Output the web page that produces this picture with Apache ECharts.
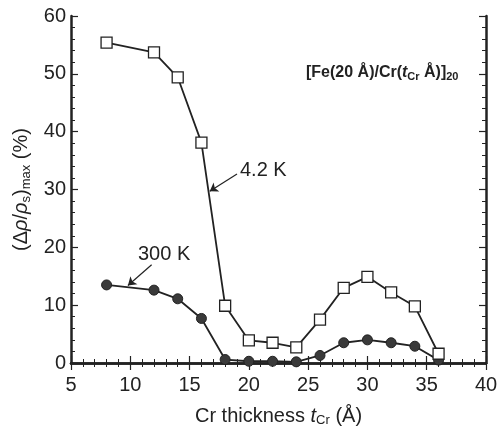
<!DOCTYPE html>
<html>
<head>
<meta charset="utf-8">
<script src="https://cdn.jsdelivr.net/npm/echarts@6/dist/echarts.min.js"></script>
<style>
  html, body { margin: 0; padding: 0; background: #fff; }
  #chart { width: 502px; height: 432px; }
</style>
</head>
<body>
<div id="chart"></div>
<script>
// Cr thickness (Å)
var thickness = [8, 12, 14, 16, 18, 20, 22, 24, 26, 28, 30, 32, 34, 36];
// MR ratio at 4.2 K and 300 K (%)
var mr4K = [55.4, 53.7, 49.4, 38.1, 9.9, 3.9, 3.5, 2.7, 7.5, 13.0, 14.9, 12.2, 9.8, 1.6];
var mr300K = [13.5, 12.6, 11.1, 7.7, 0.6, 0.3, 0.3, 0.2, 1.3, 3.5, 4.0, 3.5, 2.9, 0.5];
// annotation arrows [tail, head] in data coords
var arrow4K = [[19.0, 32.7], [16.7, 29.7]];
var arrow300K = [[11.8, 17.0], [9.8, 13.4]];

var ink = '#222';
var font = 'Liberation Sans, Arial, sans-serif';

function pairs(xs, ys) {
  return xs.map(function (x, i) { return [x, ys[i]]; });
}

var chart = echarts.init(document.getElementById('chart'), null, { renderer: 'canvas' });

var tickCommon = {
  axisLine: { lineStyle: { color: ink, width: 2.5 } },
  axisTick: { inside: true, length: 7, lineStyle: { color: ink, width: 1.2 } },
  minorTick: { show: true, splitNumber: 5, length: 4, lineStyle: { color: ink, width: 1 } },
  splitLine: { show: false }
};

var nameRich = {
  n: { fontSize: 20, color: ink, fontFamily: font },
  i: { fontSize: 20, color: ink, fontFamily: font, fontStyle: 'italic' },
  sub: { fontSize: 13, color: ink, fontFamily: font, padding: [9, 0, 0, 0] }
};

var option = {
  animation: false,
  backgroundColor: '#fff',
  grid: { left: 71, right: 16, top: 16, bottom: 66 },
  xAxis: [
    Object.assign({
      type: 'value', min: 5, max: 40, interval: 5, position: 'bottom',
      axisLabel: { color: ink, fontSize: 20, fontFamily: font, margin: 12 },
      name: '{n|Cr thickness }{i|t}{sub|Cr}{n| (Å)}',
      nameLocation: 'middle', nameGap: 42,
      nameTextStyle: { rich: nameRich }
    }, tickCommon),
    Object.assign({
      type: 'value', min: 5, max: 40, interval: 5, position: 'top',
      axisLabel: { show: false }
    }, tickCommon)
  ],
  yAxis: [
    Object.assign({
      type: 'value', min: 0, max: 60, interval: 10, position: 'left',
      axisLabel: { color: ink, fontSize: 20, fontFamily: font, margin: 5 },
      name: '{n|(Δ}{i|ρ}{n|/}{i|ρ}{sub|s}{n|)}{sub|max}{n| (%)}',
      nameLocation: 'middle', nameGap: 36, nameRotate: 90,
      nameTextStyle: { rich: nameRich }
    }, tickCommon),
    Object.assign({
      type: 'value', min: 0, max: 60, interval: 10, position: 'right',
      axisLabel: { show: false }
    }, tickCommon)
  ],
  series: [
    {
      name: '4.2 K', type: 'line', xAxisIndex: 0, yAxisIndex: 0,
      data: pairs(thickness, mr4K),
      symbol: 'rect', symbolSize: 11,
      lineStyle: { color: ink, width: 1.8 },
      itemStyle: { color: '#fff', borderColor: ink, borderWidth: 1.3 },
      z: 3,
      markLine: {
        silent: true, symbol: ['none', 'arrow'], symbolSize: 8,
        lineStyle: { color: ink, width: 1.2, type: 'solid' },
        label: { show: false },
        data: [[{ coord: arrow4K[0] }, { coord: arrow4K[1] }]]
      }
    },
    {
      name: '300 K', type: 'line', xAxisIndex: 0, yAxisIndex: 0,
      data: pairs(thickness, mr300K),
      symbol: 'circle', symbolSize: 10,
      lineStyle: { color: ink, width: 1.8 },
      itemStyle: { color: '#3a3a3a', borderColor: ink, borderWidth: 1 },
      z: 2,
      markLine: {
        silent: true, symbol: ['none', 'arrow'], symbolSize: 8,
        lineStyle: { color: ink, width: 1.2, type: 'solid' },
        label: { show: false },
        data: [[{ coord: arrow300K[0] }, { coord: arrow300K[1] }]]
      }
    }
  ],
  graphic: [
    {
      type: 'text', left: 240, top: 160,
      style: { text: '4.2 K', fill: ink, font: '20px ' + font }
    },
    {
      type: 'text', left: 138, top: 244,
      style: { text: '300 K', fill: ink, font: '20px ' + font }
    },
    {
      type: 'text', left: 306, top: 65,
      style: {
        text: '{b|[Fe(20 Å)/Cr(}{bi|t}{s|Cr}{b| Å)]}{s|20}',
        rich: {
          b: { fontSize: 16, fontWeight: 'bold', fill: ink, fontFamily: font },
          bi: { fontSize: 16, fontWeight: 'bold', fontStyle: 'italic', fill: ink, fontFamily: font },
          s: { fontSize: 11, fontWeight: 'bold', fill: ink, fontFamily: font, padding: [8, 0, 0, 0] }
        }
      }
    }
  ]
};

chart.setOption(option);
</script>
</body>
</html>
